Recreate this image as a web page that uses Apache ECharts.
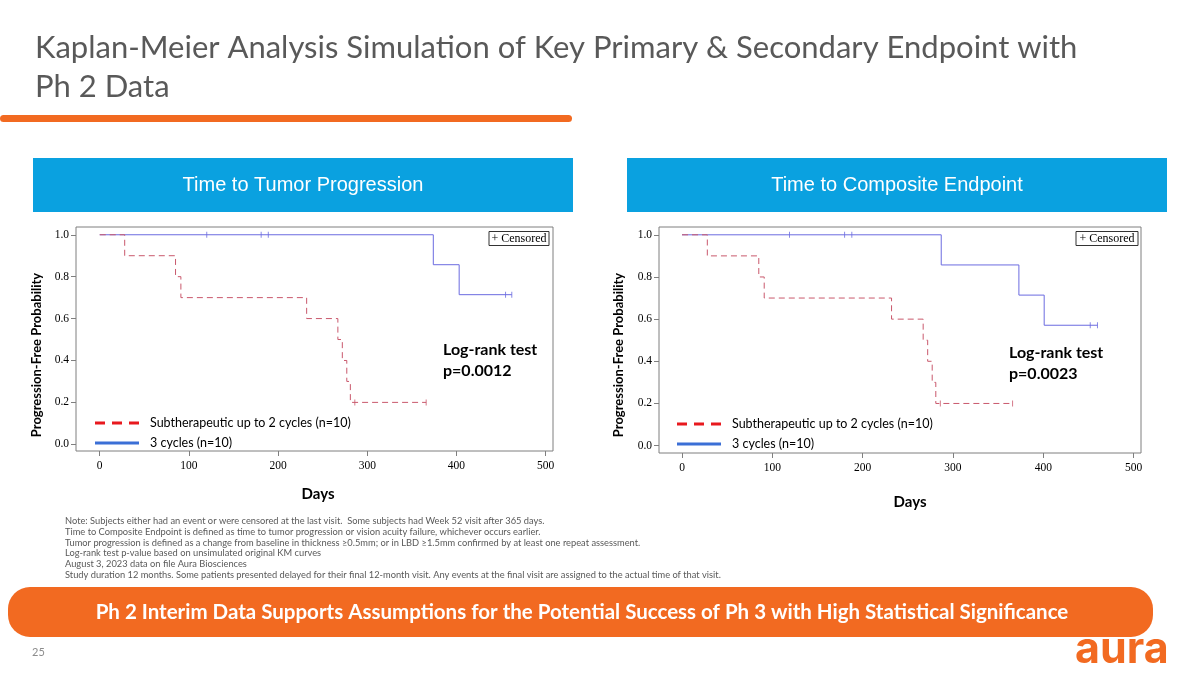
<!DOCTYPE html>
<html>
<head>
<meta charset="utf-8">
<title>Kaplan-Meier Analysis Simulation</title>
<script src="https://cdn.jsdelivr.net/npm/echarts@6/dist/echarts.min.js"></script>
<style>
  html, body { margin: 0; padding: 0; background: #fff; }
  #chart { width: 1200px; height: 675px; }
</style>
</head>
<body>
<div id="chart"></div>
<script>
// axis ticks
const xTicks = [0, 100, 200, 300, 400, 500];
const yTicks = [0, 0.2, 0.4, 0.6, 0.8, 1.0];

// Subtherapeutic up to 2 cycles (same curve on both panels)
const subDays = [0, 28, 85, 91, 232, 267, 272, 277, 281, 366];
const subSurv = [1.0, 0.9, 0.8, 0.7, 0.6, 0.5, 0.4, 0.3, 0.2, 0.2];
const subCensDays = [286, 366];
const subCensSurv = [0.2, 0.2];

// 3 cycles - time to tumor progression
const tumorDays = [0, 374, 403, 462];
const tumorSurv = [1.0, 0.857, 0.714, 0.714];
const tumorCensDays = [120, 181, 189, 455, 462];
const tumorCensSurv = [1.0, 1.0, 1.0, 0.714, 0.714];

// 3 cycles - time to composite endpoint
const compDays = [0, 287, 373, 401, 460];
const compSurv = [1.0, 0.857, 0.714, 0.571, 0.571];
const compCensDays = [119, 180, 188, 452, 460];
const compCensSurv = [1.0, 1.0, 1.0, 0.571, 0.571];

const noteLines = [
  'Note: Subjects either had an event or were censored at the last visit.  Some subjects had Week 52 visit after 365 days.',
  'Time to Composite Endpoint is defined as time to tumor progression or vision acuity failure, whichever occurs earlier.',
  'Tumor progression is defined as a change from baseline in thickness \u22650.5mm; or in LBD \u22651.5mm confirmed by at least one repeat assessment.',
  'Log-rank test p-value based on unsimulated original KM curves',
  'August 3, 2023 data on file Aura Biosciences',
  'Study duration 12 months. Some patients presented delayed for their final 12-month visit. Any events at the final visit are assigned to the actual time of that visit.'
];

const RED = '#c9586c';
const BLUE = '#6b6be0';
const ORANGE = '#f26a21';
const SANS = 'Lato, "Open Sans", sans-serif';
const SERIF = '"Liberation Serif", "DejaVu Serif", serif';

const zip = (xs, ys) => xs.map((x, i) => [x, ys[i]]);

const chart = echarts.init(document.getElementById('chart'), null, { renderer: 'canvas' });

const xAx = (gi, min, max) => ({
  type: 'value', gridIndex: gi, min, max, position: 'bottom',
  axisLine: { show: false, onZero: false },
  splitLine: { show: false },
  axisTick: { show: true, customValues: xTicks, length: 5, lineStyle: { color: '#7f7f7f' } },
  axisLabel: { customValues: xTicks, margin: 9, color: '#000', fontSize: 11.5, fontFamily: SERIF }
});

const yAx = (gi, min, max) => ({
  type: 'value', gridIndex: gi, min, max, position: 'left',
  axisLine: { show: false, onZero: false },
  splitLine: { show: false },
  axisTick: { show: true, customValues: yTicks, length: 5, lineStyle: { color: '#7f7f7f' } },
  axisLabel: { customValues: yTicks, margin: 7, color: '#000', fontSize: 11.5, fontFamily: SERIF,
    formatter: v => v.toFixed(1) }
});

const kmLine = (gi, data, color, dashed) => ({
  type: 'line', xAxisIndex: gi, yAxisIndex: gi, step: 'end',
  showSymbol: false, symbol: 'none', data, silent: true,
  lineStyle: { color, width: 1, type: dashed ? [6, 4] : 'solid' }
});

const censor = (gi, data, color) => ({
  type: 'scatter', xAxisIndex: gi, yAxisIndex: gi, data, silent: true,
  symbol: 'rect', symbolSize: [1, 6], itemStyle: { color }
});

const txt = (x, y, text, opts) => ({
  type: 'text', x, y, silent: true,
  style: Object.assign({ text, fill: '#000', fontFamily: SANS, fontSize: 12, align: 'left', verticalAlign: 'middle' }, opts)
});

// stuff that sits on each panel
const panel = (ox, cfg) => [
  { type: 'rect', shape: { x: ox + 33, y: 158, width: 540, height: 54 }, style: { fill: '#0aa1e0' }, silent: true },
  txt(ox + 303, 185, cfg.head, { fill: '#fff', fontSize: 20, fontFamily: '"Liberation Sans", Arial, sans-serif', align: 'center' }),
  Object.assign(txt(ox + cfg.yTitleX, 355, 'Progression-Free Probability', { fontSize: 13, fontWeight: 'bold', align: 'center' }), { rotation: Math.PI / 2 }),
  txt(ox + cfg.daysX, cfg.daysY, 'Days', { fontSize: 15, fontWeight: 'bold', align: 'center' }),
  { type: 'rect', shape: { x: cfg.boxX, y: 231.5, width: cfg.boxW, height: 14 }, style: { fill: '#fff', stroke: '#333', lineWidth: 1 }, silent: true },
  txt(cfg.boxX + cfg.boxW / 2, 238.5, '+ Censored', { fontSize: 12, fontFamily: SERIF, align: 'center' }),
  txt(cfg.lrX, cfg.lrY, 'Log-rank test', { fontSize: 16, fontWeight: 'bold' }),
  txt(cfg.lrX, cfg.lrY + 21, cfg.p, { fontSize: 16, fontWeight: 'bold' }),
  { type: 'line', shape: { x1: cfg.legX, y1: cfg.legY, x2: cfg.legX + 44, y2: cfg.legY }, style: { stroke: '#e8191e', lineWidth: 3, lineDash: [10, 7] }, silent: true },
  { type: 'line', shape: { x1: cfg.legX, y1: cfg.legY + 20, x2: cfg.legX + 44, y2: cfg.legY + 20 }, style: { stroke: '#3b6fd6', lineWidth: 3 }, silent: true },
  txt(cfg.legX + 55, cfg.legY, 'Subtherapeutic up to 2 cycles (n=10)', { fontSize: 12.5 }),
  txt(cfg.legX + 55, cfg.legY + 20, '3 cycles (n=10)', { fontSize: 12.5 })
];

const graphics = [
  txt(35, 48, 'Kaplan-Meier Analysis Simulation of Key Primary & Secondary Endpoint with', { fill: '#595959', fontSize: 31 }),
  txt(35, 87, 'Ph 2 Data', { fill: '#595959', fontSize: 31 }),
  { type: 'rect', shape: { x: 0, y: 115, width: 572, height: 7, r: 3.5 }, style: { fill: ORANGE }, silent: true },
  ...panel(0, { head: 'Time to Tumor Progression', yTitleX: 37, daysX: 318, daysY: 494,
    boxX: 489, boxW: 60, lrX: 443, lrY: 350, p: 'p=0.0012', legX: 95, legY: 423 }),
  ...panel(594, { head: 'Time to Composite Endpoint', yTitleX: 25, daysX: 316, daysY: 502,
    boxX: 1076, boxW: 62, lrX: 1009, lrY: 353, p: 'p=0.0023', legX: 677, legY: 424 }),
  ...noteLines.map((t, i) => txt(65, 521 + i * 10.8, t, { fill: '#595959', fontSize: 9.3 })),
  { type: 'rect', shape: { x: 8, y: 587, width: 1145, height: 50, r: 22 }, style: { fill: ORANGE }, silent: true },
  txt(582, 612, 'Ph 2 Interim Data Supports Assumptions for the Potential Success of Ph 3 with High Statistical Significance',
    { fill: '#fff', fontSize: 20.5, fontWeight: 'bold', align: 'center' }),
  txt(32, 652, '25', { fill: '#8c8c8c', fontSize: 11 }),
  txt(1075, 672, 'aura', { fill: ORANGE, fontSize: 43, fontWeight: 'bold', fontFamily: 'Inter, Lato, sans-serif', verticalAlign: 'bottom' })
];

chart.setOption({
  animation: false,
  backgroundColor: '#fff',
  grid: [
    { left: 76, top: 227, width: 477, height: 224, show: true, borderColor: '#7f7f7f', borderWidth: 1 },
    { left: 659, top: 227, width: 482, height: 226, show: true, borderColor: '#7f7f7f', borderWidth: 1 }
  ],
  xAxis: [xAx(0, -26.6, 508.2), xAx(1, -25.5, 508.2)],
  yAxis: [yAx(0, -0.032, 1.037), yAx(1, -0.035, 1.037)],
  series: [
    kmLine(0, zip(tumorDays, tumorSurv), BLUE, false),
    kmLine(0, zip(subDays, subSurv), RED, true),
    censor(0, zip(tumorCensDays, tumorCensSurv), BLUE),
    censor(0, zip(subCensDays, subCensSurv), RED),
    kmLine(1, zip(compDays, compSurv), BLUE, false),
    kmLine(1, zip(subDays, subSurv), RED, true),
    censor(1, zip(compCensDays, compCensSurv), BLUE),
    censor(1, zip(subCensDays, subCensSurv), RED)
  ],
  graphic: graphics
});
</script>
</body>
</html>
